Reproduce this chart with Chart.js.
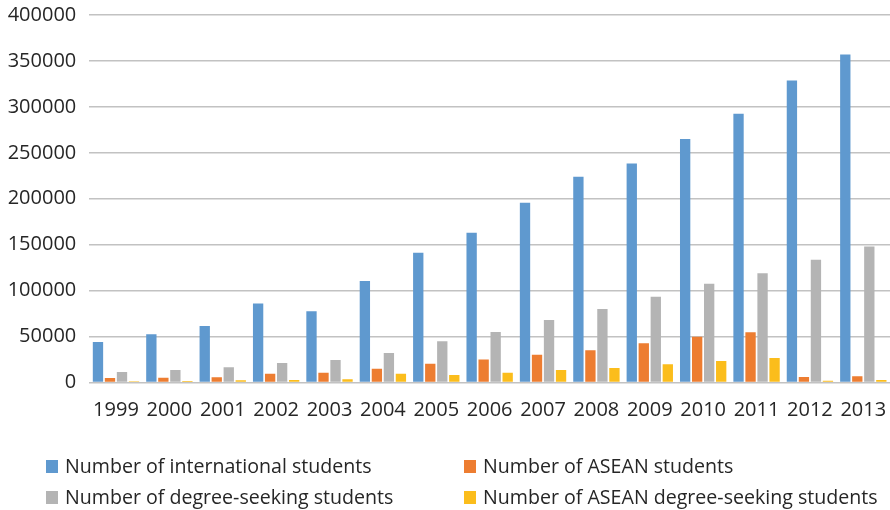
<!DOCTYPE html>
<html>
<head>
<meta charset="utf-8">
<script src="https://cdn.jsdelivr.net/npm/chart.js@4/dist/chart.umd.min.js"></script>
<style>
  html, body { margin: 0; padding: 0; background: #ffffff; }
  #wrap { position: relative; width: 890px; height: 510px; }
</style>
</head>
<body>
<div id="wrap"><canvas id="chart" width="890" height="510"></canvas></div>
<script>
// Academic years
const years = ['1999', '2000', '2001', '2002', '2003', '2004', '2005', '2006',
               '2007', '2008', '2009', '2010', '2011', '2012', '2013'];

// Student counts per year
const internationalStudents = [44000, 52500, 61600, 85900, 77600, 110600, 141100, 163000,
                               195600, 224000, 238500, 265000, 292600, 328600, 356900];
const aseanStudents = [4900, 5200, 5700, 9600, 10700, 15000, 20500, 24900,
                       30300, 35100, 42700, 49900, 54700, 6000, 6800];
const degreeSeekingStudents = [11400, 13600, 16600, 21300, 24500, 32200, 44900, 55000,
                               68100, 80100, 93200, 107400, 119000, 133500, 148000];
const aseanDegreeSeekingStudents = [1300, 1600, 2400, 2700, 3500, 9600, 8200, 10700,
                                    13600, 15800, 19800, 23400, 26700, 2000, 2700];

// Series names
const seriesNames = ['Number of international students', 'Number of ASEAN students',
                     'Number of degree-seeking students', 'Number of ASEAN degree-seeking students'];

// Y axis ticks
const yTicks = [0, 50000, 100000, 150000, 200000, 250000, 300000, 350000, 400000];

const FONT = "'Open Sans', 'Liberation Sans', sans-serif";
const TEXT = '#262626';
const colors = ['#5f99cf', '#ed7d31', '#b4b4b4', '#fbbd1c'];

// Two-column legend drawn under the plot
const gridLegend = {
  id: 'gridLegend',
  afterDraw(chart) {
    const ctx = chart.ctx;
    const boxX = [46, 464];
    const textX = [65, 483];
    const baseY = [473, 504];
    ctx.save();
    ctx.font = '19.6px ' + FONT;
    ctx.textBaseline = 'alphabetic';
    ctx.textAlign = 'left';
    chart.data.datasets.forEach((ds, i) => {
      const col = i % 2, row = Math.floor(i / 2);
      ctx.fillStyle = ds.backgroundColor;
      ctx.fillRect(boxX[col], baseY[row] - 13, 12, 13);
      ctx.fillStyle = TEXT;
      ctx.fillText(ds.label, textX[col], baseY[row]);
    });
    ctx.restore();
  }
};

const seriesData = [internationalStudents, aseanStudents, degreeSeekingStudents, aseanDegreeSeekingStudents];

new Chart(document.getElementById('chart'), {
  type: 'bar',
  data: {
    labels: years,
    datasets: seriesData.map((d, i) => ({
      label: seriesNames[i],
      data: d,
      backgroundColor: colors[i],
      borderWidth: 0,
      categoryPercentage: 0.9,
      barPercentage: 0.86
    }))
  },
  options: {
    responsive: false,
    animation: false,
    devicePixelRatio: 1,
    layout: { padding: { top: 15, left: 0, right: 0, bottom: 0 } },
    plugins: {
      legend: { display: false },
      tooltip: { enabled: false }
    },
    scales: {
      x: {
        grid: { display: false, drawTicks: false },
        border: { display: false },
        ticks: {
          font: { family: FONT, size: 20 },
          color: TEXT,
          padding: 16,
          maxRotation: 0,
          autoSkip: false
        },
        afterFit(scale) {
          scale.height = 127.5;
          scale.paddingLeft = 0;
          scale.paddingRight = 0;
        }
      },
      y: {
        min: 0,
        max: yTicks[yTicks.length - 1],
        afterBuildTicks(scale) { scale.ticks = yTicks.map(v => ({ value: v })); },
        grid: { color: '#c2c2c2', lineWidth: 1.5, drawTicks: false },
        border: { display: false },
        ticks: {
          font: { family: FONT, size: 20 },
          color: TEXT,
          padding: 13,
          callback: v => String(v)
        },
        afterFit(scale) {
          scale.width = 89.3;
          scale.paddingTop = 0;
          scale.paddingBottom = 0;
        }
      }
    }
  },
  plugins: [gridLegend]
});
</script>
</body>
</html>
